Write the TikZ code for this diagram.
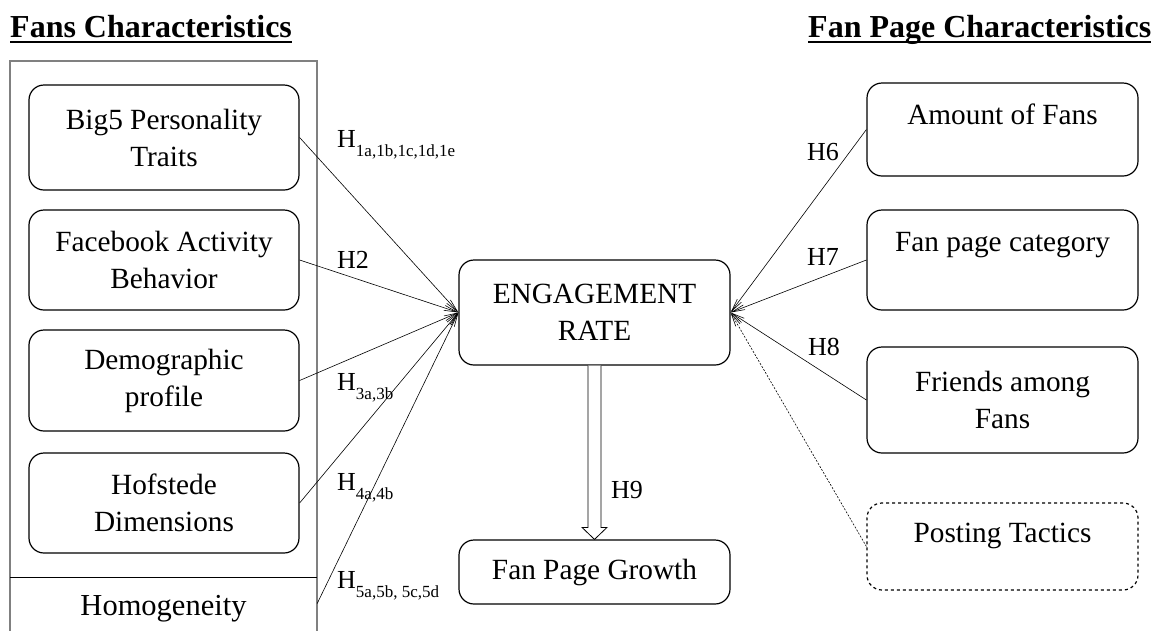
\documentclass[tikz,border=0pt]{standalone}
\usepackage{fontspec}
\setmainfont{Liberation Serif}
\usetikzlibrary{arrows.meta,calc}
\newcommand\Hsub[1]{\raisebox{-9pt}{\fontsize{17}{17}\selectfont #1}}
\begin{document}
\begin{tikzpicture}[x=1pt,y=-1pt,
  box/.style={draw, line width=1.2pt, rounded corners=15pt, minimum width=270pt, align=center, inner sep=0pt, font=\fontsize{29.3}{37}\selectfont},
  lbl/.style={anchor=base west, inner sep=0pt, font=\fontsize{26}{26}\selectfont},
  titletext/.style={anchor=base west, inner sep=0pt, font=\fontsize{32}{32}\selectfont\bfseries},
  conn/.style={line width=0.6pt, -{Straight Barb[length=13pt,width=5pt]}},
]
\useasboundingbox (0,0) rectangle (1160,630);
% titles
\node[titletext] (t1) at (10,37) {Fans Characteristics};
\draw[line width=2.5pt] ($(t1.base west)+(0,5)$) -- ($(t1.base east)+(0,5)$);
\node[titletext] (t2) at (808,37) {Fan Page Characteristics};
\draw[line width=2.5pt] ($(t2.base west)+(0,5)$) -- ($(t2.base east)+(0,5)$);
% left group frame
\draw[gray, line width=1.2pt] (10,632) -- (10,61) -- (317,61) -- (317,632);
\draw[line width=1pt] (10,577) -- (317,577);
\node[inner sep=0pt, minimum width=307pt, minimum height=53pt, text depth=0pt, text height=24pt, font=\fontsize{30.5}{37}\selectfont] (homog) at (163.5,603.5) {Homogeneity};
% left boxes
\node[box, minimum height=105pt] (big5) at (164,137.5) {Big5 Personality\\Traits};
\node[box, minimum height=100pt] (fb) at (164,260) {Facebook Activity\\Behavior};
\node[box, minimum height=101pt] (demo) at (164,380.5) {Demographic\\profile};
\node[box, minimum height=100pt] (hof) at (164,503) {Hofstede\\Dimensions};
% center
\node[box, minimum width=271pt, minimum height=105pt] (eng) at (594.5,312.5) {ENGAGEMENT\\RATE};
\node[box, minimum width=271pt, minimum height=64pt] (growth) at (594.5,572) {Fan Page Growth};
% right boxes
\node[box, minimum width=271pt, minimum height=93pt] (amount) at (1002.5,129.5) {Amount of Fans\\[-18pt]\strut};
\node[box, minimum width=271pt, minimum height=100pt] (cat) at (1002.5,260) {Fan page category\\[-12pt]\strut};
\node[box, minimum width=271pt, minimum height=106pt] (friends) at (1002.5,400) {Friends among\\Fans};
\node[box, dashed, minimum width=271pt, minimum height=87pt] (post) at (1002.5,546.5) {Posting Tactics\\[-21pt]\strut};
% connectors
\draw[conn] (big5.east) -- (eng.west);
\draw[conn] (fb.east) -- (eng.west);
\draw[conn] (demo.east) -- (eng.west);
\draw[conn] (hof.east) -- (eng.west);
\draw[conn] (homog.east) -- (eng.west);
\draw[conn] (amount.west) -- (eng.east);
\draw[conn] (cat.west) -- (eng.east);
\draw[conn] (friends.west) -- (eng.east);
\draw[conn, dash pattern=on 2pt off 1.5pt] (post.west) -- (eng.east);
% H9 hollow arrow
\draw[line width=0.8pt, fill=white] ($(eng.south)+(-6.5,0)$) -- ($(growth.north)+(-6.5,-12)$) -- ($(growth.north)+(-12.5,-12)$) -- (growth.north) -- ($(growth.north)+(12.5,-12)$) -- ($(growth.north)+(6.5,-12)$) -- ($(eng.south)+(6.5,0)$);
% labels
\node[lbl] (h1) at (337,147) {H\Hsub{1a,1b,1c,1d,1e}};
\node[lbl] (h2) at (337,268) {H2};
\node[lbl] (h3) at (337,390) {H\Hsub{3a,3b}};
\node[lbl] (h4) at (337,490) {H\Hsub{4a,4b}};
\node[lbl] (h5) at (337,588) {H\Hsub{5a,5b, 5c,5d}};
\node[lbl] (h6) at (807,160) {H6};
\node[lbl] (h7) at (807,265) {H7};
\node[lbl] (h8) at (808,355) {H8};
\node[lbl] (h9) at (611,498) {H9};
\end{tikzpicture}
\end{document}
